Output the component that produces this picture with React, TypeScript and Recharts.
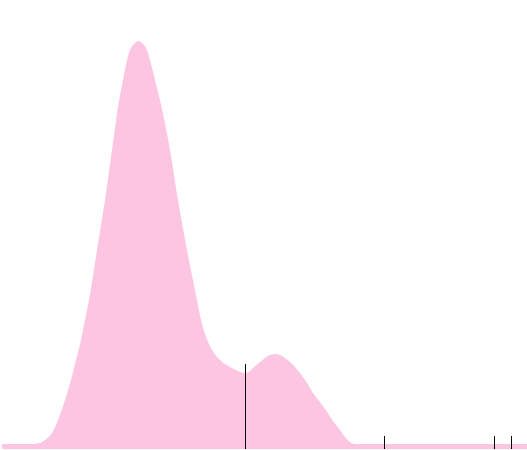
import { AreaChart, Area, XAxis, YAxis, ReferenceLine } from 'recharts'

// density curve, sampled along the x axis
const gridX = [
  2, 30, 40, 45, 52, 58, 65, 71, 76, 81, 85, 89, 97, 105, 112, 118, 123, 127, 130, 134,
  139, 142, 147, 150, 155, 160, 170, 178, 187, 197, 201, 205, 209, 214, 220, 230, 238,
  245, 250, 255, 260, 265, 270, 276, 280, 285, 290, 295, 300, 307, 313, 320, 327, 333,
  340, 345, 350, 355, 527,
]
const density = [
  0.005, 0.005, 0.006, 0.009, 0.016, 0.029, 0.049, 0.069, 0.089, 0.109, 0.129, 0.149,
  0.199, 0.249, 0.299, 0.342, 0.369, 0.389, 0.399, 0.405, 0.408, 0.406, 0.399, 0.389,
  0.369, 0.349, 0.299, 0.249, 0.199, 0.149, 0.129, 0.115, 0.105, 0.096, 0.089, 0.082,
  0.078, 0.076, 0.078, 0.083, 0.087, 0.091, 0.094, 0.095, 0.094, 0.091, 0.087, 0.082,
  0.076, 0.066, 0.056, 0.047, 0.037, 0.028, 0.019, 0.012, 0.007, 0.005, 0.005,
]

// tall marker and rug ticks
const markerX = 245.5
const markerHeight = 0.085
const rugX = [384.5, 494.5, 511.5]
const rugHeight = 0.013

const data = gridX.map((x, i) => ({ x, y: density[i] }))

export default function App() {
  return (
    <div style={{ position: 'absolute', left: 0, top: 0, background: '#fff' }}>
      <AreaChart width={527} height={450} data={data} margin={{ top: 0, right: 0, bottom: 1, left: 0 }}>
        <XAxis dataKey="x" type="number" domain={[0, 527]} hide />
        <YAxis type="number" domain={[0, 0.449]} hide />
        <Area
          type="monotone"
          dataKey="y"
          stroke="none"
          fill="#fcc6e2"
          fillOpacity={1}
          baseValue={0}
          activeDot={false}
          isAnimationActive={false}
        />
        <ReferenceLine
          segment={[{ x: markerX, y: 0 }, { x: markerX, y: markerHeight }]}
          stroke="#000"
          strokeWidth={1}
        />
        {rugX.map((x) => (
          <ReferenceLine
            key={x}
            segment={[{ x, y: 0 }, { x, y: rugHeight }]}
            stroke="#000"
            strokeWidth={1}
          />
        ))}
      </AreaChart>
    </div>
  )
}
